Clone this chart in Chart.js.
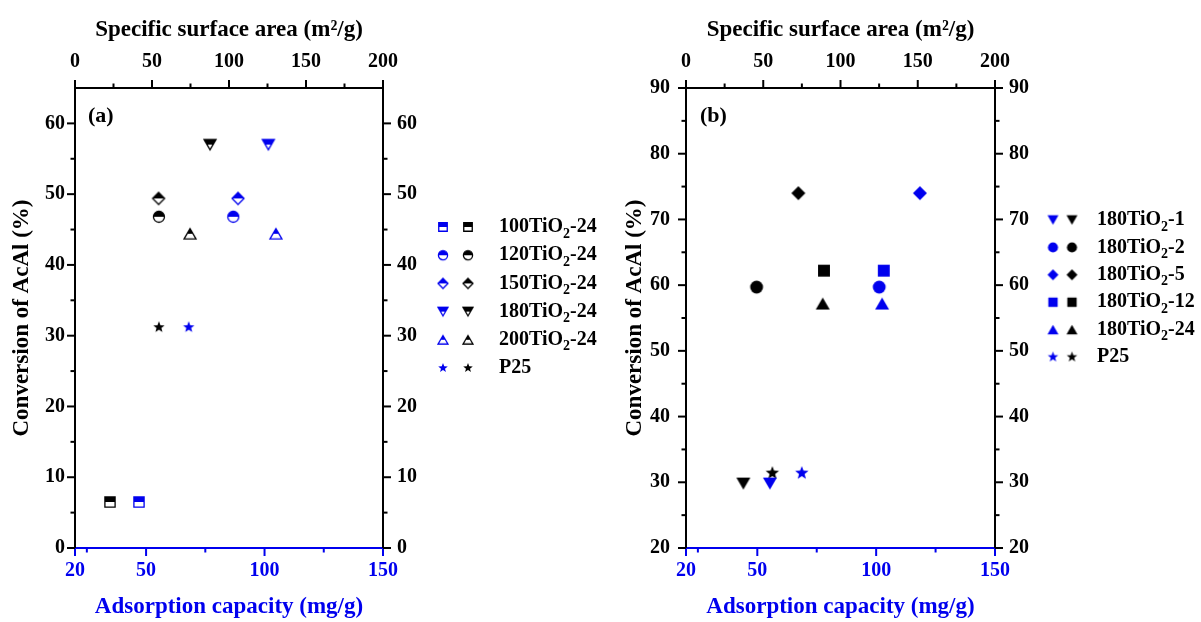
<!DOCTYPE html>
<html>
<head>
<meta charset="utf-8">
<script src="https://cdn.jsdelivr.net/npm/chart.js@4.4.1/dist/chart.umd.min.js"></script>
<style>
  html, body { margin: 0; padding: 0; background: #fff; }
  #wrap { position: relative; width: 1201px; height: 622px; }
  .panel { position: absolute; top: 0; height: 622px; }
  #panel-a { left: 0; width: 600px; }
  #panel-b { left: 600px; width: 601px; }
</style>
</head>
<body>
<div id="wrap">
  <div class="panel" id="panel-a"><canvas id="chart-a"></canvas></div>
  <div class="panel" id="panel-b"><canvas id="chart-b"></canvas></div>
</div>
<script>
// --- 1. Data ---
// panel (a): calcination temperature series
const samplesA = ["100TiO2-24", "120TiO2-24", "150TiO2-24", "180TiO2-24", "200TiO2-24", "P25"];
const shapesA = ["square", "circle", "diamond", "triangleDown", "triangle", "star"];
const areaA = [22.7, 54.5, 54.3, 87.7, 74.7, 54.5];      // specific surface area (top axis)
const adsA = [47.0, 86.8, 88.8, 101.6, 104.8, 68.0];     // adsorption capacity (bottom axis)
const convA = [6.5, 46.8, 49.4, 57.0, 44.4, 31.2];       // conversion of AcAl, %

// panel (b): hydrothermal time series
const samplesB = ["180TiO2-1", "180TiO2-2", "180TiO2-5", "180TiO2-12", "180TiO2-24", "P25"];
const shapesB = ["triangleDown", "circle", "diamond", "square", "triangle", "star"];
const areaB = [37.1, 45.7, 72.7, 89.3, 88.5, 55.9];
const adsB = [55.3, 101.3, 118.4, 103.2, 102.5, 68.7];
const convB = [29.8, 59.7, 74.0, 62.2, 57.2, 31.4];

// tick labels / tick marks
const adsTicks = [20, 50, 100, 150];
const adsMinor = [25, 75, 125];
const areaTicks = [0, 50, 100, 150, 200];
const areaMinor = [25, 75, 125, 175];
const convTicksA = [0, 10, 20, 30, 40, 50, 60];
const convMinorA = [5, 15, 25, 35, 45, 55];
const convTicksB = [20, 30, 40, 50, 60, 70, 80, 90];
const convMinorB = [25, 35, 45, 55, 65, 75, 85];

const BLUE = "#0000ee";
const BLACK = "#000000";
const FONT = "'Liberation Serif', 'Times New Roman', serif";
Chart.defaults.font.family = FONT;

// --- 2. Marker images (half filled / full) ---
function shapePath(ctx, shape, c, r) {
    ctx.beginPath();
    if (shape === "square") {
        const h = r * 0.85;
        ctx.rect(c - h, c - h, 2 * h, 2 * h);
    } else if (shape === "circle") {
        ctx.arc(c, c, r * 0.92, 0, Math.PI * 2);
    } else if (shape === "diamond") {
        ctx.moveTo(c, c - r); ctx.lineTo(c + r, c); ctx.lineTo(c, c + r); ctx.lineTo(c - r, c);
    } else if (shape === "triangle") {
        ctx.moveTo(c, c - r * 0.85); ctx.lineTo(c + r, c + r * 0.85); ctx.lineTo(c - r, c + r * 0.85);
    } else if (shape === "triangleDown") {
        ctx.moveTo(c - r, c - r * 0.85); ctx.lineTo(c + r, c - r * 0.85); ctx.lineTo(c, c + r * 0.85);
    } else if (shape === "star") {
        for (let i = 0; i < 10; i++) {
            const rr = i % 2 === 0 ? r : r * 0.42;
            const a = -Math.PI / 2 + i * Math.PI / 5;
            const px = c + rr * Math.cos(a), py = c + rr * Math.sin(a);
            if (i === 0) ctx.moveTo(px, py); else ctx.lineTo(px, py);
        }
    }
    ctx.closePath();
}

function makeMarker(shape, color, size, half) {
    const cv = document.createElement("canvas");
    cv.width = cv.height = size + 4;
    const ctx = cv.getContext("2d");
    const c = cv.width / 2, r = size / 2;
    shapePath(ctx, shape, c, r);
    if (half && shape !== "star") {
        ctx.fillStyle = "#fff";
        ctx.fill();
        ctx.save();
        ctx.clip();
        ctx.fillStyle = color;
        ctx.fillRect(0, 0, cv.width, c);
        ctx.restore();
        shapePath(ctx, shape, c, r);
        ctx.lineWidth = 1.3;
        ctx.strokeStyle = color;
        ctx.stroke();
    } else {
        ctx.fillStyle = color;
        ctx.fill();
    }
    return cv;
}

// --- 3. Plugins: tick marks, panel letter, legend ---
const tickMarks = {
    id: "tickMarks",
    afterDraw(chart, args, opts) {
        const ctx = chart.ctx, a = chart.chartArea;
        ctx.save();
        ctx.lineWidth = 2;
        opts.axes.forEach(ax => {
            const s = chart.scales[ax.id];
            ctx.strokeStyle = ax.color;
            const mark = (v, len) => {
                const p = s.getPixelForValue(v);
                ctx.beginPath();
                if (s.position === "bottom") { ctx.moveTo(p, a.bottom); ctx.lineTo(p, a.bottom + len); }
                else if (s.position === "top") { ctx.moveTo(p, a.top); ctx.lineTo(p, a.top - len); }
                else if (s.position === "left") { ctx.moveTo(a.left, p); ctx.lineTo(a.left - len, p); }
                else { ctx.moveTo(a.right, p); ctx.lineTo(a.right + len, p); }
                ctx.stroke();
            };
            ax.major.forEach(v => mark(v, 8));
            ax.minor.forEach(v => mark(v, 4.5));
        });
        ctx.restore();
    }
};

const panelDecor = {
    id: "panelDecor",
    afterDraw(chart, args, opts) {
        const ctx = chart.ctx;
        ctx.save();
        ctx.textBaseline = "middle";
        ctx.fillStyle = BLACK;
        ctx.font = "bold 22px " + FONT;
        ctx.fillText(opts.letter, opts.letterX, opts.letterY);

        // legend: blue marker, black marker, name with subscript
        opts.names.forEach((name, i) => {
            const y = opts.y0 + i * opts.dy;
            const bm = opts.blueMarks[i], km = opts.blackMarks[i];
            ctx.drawImage(bm, opts.blueX - bm.width / 2, y - bm.height / 2);
            ctx.drawImage(km, opts.blackX - km.width / 2, y - km.height / 2);
            let x = opts.textX;
            const k = name.indexOf("TiO2");
            const parts = k >= 0
                ? [[name.slice(0, k + 3), 0], ["2", 1], [name.slice(k + 4), 0]]
                : [[name, 0]];
            parts.forEach(([t, sub]) => {
                ctx.font = sub ? "bold 14px " + FONT : "bold 20px " + FONT;
                ctx.fillText(t, x, sub ? y + 7 : y);
                x += ctx.measureText(t).width;
            });
        });
        ctx.restore();
    }
};

// --- 4. Chart builder ---
function bold(size) { return { family: FONT, size: size, weight: "bold" }; }

function buildChart(canvasId, p) {
    const blueMarks = p.shapes.map(s => makeMarker(s, BLUE, p.markSize, p.half));
    const blackMarks = p.shapes.map(s => makeMarker(s, BLACK, p.markSize, p.half));
    const legBlue = p.shapes.map(s => makeMarker(s, BLUE, p.legSize, p.half));
    const legBlack = p.shapes.map(s => makeMarker(s, BLACK, p.legSize, p.half));

    const yAxis = (pos, width, pad) => ({
        type: "linear", position: pos, min: p.yMin, max: p.yMax,
        afterBuildTicks: s => { s.ticks = p.yTicks.map(v => ({ value: v })); },
        afterFit: s => { s.width = width; },
        grid: { display: false, drawTicks: false },
        border: { display: true, color: BLACK, width: 2 },
        ticks: { color: BLACK, font: bold(20), padding: pad, autoSkip: false }
    });

    const left = yAxis("left", p.leftW, p.leftPad);
    left.title = { display: true, text: "Conversion of AcAl (%)", color: BLACK, font: bold(23), padding: { top: p.titlePad, bottom: 0 } };

    return new Chart(document.getElementById(canvasId), {
        type: "scatter",
        data: {
            datasets: [
                {
                    label: "adsorption",
                    xAxisID: "x", yAxisID: "y",
                    data: p.ads.map((v, i) => ({ x: v, y: p.conv[i] })),
                    pointStyle: blueMarks, pointRadius: 6
                },
                {
                    label: "surface area",
                    xAxisID: "x2", yAxisID: "y",
                    data: p.area.map((v, i) => ({ x: v, y: p.conv[i] })),
                    pointStyle: blackMarks, pointRadius: 6
                }
            ]
        },
        options: {
            responsive: true,
            maintainAspectRatio: false,
            animation: false,
            layout: { padding: 0, autoPadding: false },
            scales: {
                x: {
                    type: "linear", position: "bottom", min: 20, max: 150,
                    afterBuildTicks: s => { s.ticks = adsTicks.map(v => ({ value: v })); },
                    afterFit: s => { s.height = 74; },
                    grid: { display: false, drawTicks: false },
                    border: { display: true, color: BLUE, width: 2 },
                    ticks: { color: BLUE, font: bold(20), padding: 11, autoSkip: false, maxRotation: 0 },
                    title: { display: true, text: "Adsorption capacity (mg/g)", color: BLUE, font: bold(23), padding: { top: 0, bottom: 1 } }
                },
                x2: {
                    type: "linear", position: "top", min: 0, max: 200,
                    afterBuildTicks: s => { s.ticks = areaTicks.map(v => ({ value: v })); },
                    afterFit: s => { s.height = 88; },
                    grid: { display: false, drawTicks: false },
                    border: { display: true, color: BLACK, width: 2 },
                    ticks: { color: BLACK, font: bold(20), padding: 14, autoSkip: false, maxRotation: 0 },
                    title: { display: true, text: "Specific surface area (m\u00b2/g)", color: BLACK, font: bold(23), padding: { top: 16, bottom: 0 } }
                },
                y: left,
                y2: yAxis("right", p.rightW, 14)
            },
            plugins: {
                legend: { display: false },
                tooltip: { enabled: false },
                tickMarks: {
                    axes: [
                        { id: "x", color: BLUE, major: adsTicks, minor: adsMinor },
                        { id: "x2", color: BLACK, major: areaTicks, minor: areaMinor },
                        { id: "y", color: BLACK, major: p.yTicks, minor: p.yMinor },
                        { id: "y2", color: BLACK, major: p.yTicks, minor: p.yMinor }
                    ]
                },
                panelDecor: Object.assign({ names: p.names, blueMarks: legBlue, blackMarks: legBlack }, p.legend)
            }
        },
        plugins: [tickMarks, panelDecor]
    });
}

// --- 5. Draw both panels ---
buildChart("chart-a", {
    names: samplesA, shapes: shapesA, ads: adsA, area: areaA, conv: convA,
    half: true, markSize: 12, legSize: 10,
    yMin: 0, yMax: 65, yTicks: convTicksA, yMinor: convMinorA,
    leftW: 75, leftPad: 10, rightW: 217, titlePad: 8,
    legend: { letter: "(a)", letterX: 88, letterY: 116, y0: 227, dy: 28.2, blueX: 443, blackX: 468, textX: 499 }
});

buildChart("chart-b", {
    names: samplesB, shapes: shapesB, ads: adsB, area: areaB, conv: convB,
    half: false, markSize: 14, legSize: 11,
    yMin: 20, yMax: 90, yTicks: convTicksB, yMinor: convMinorB,
    leftW: 86, leftPad: 16, rightW: 206, titlePad: 21,
    legend: { letter: "(b)", letterX: 100, letterY: 116, y0: 220, dy: 27.4, blueX: 453, blackX: 472, textX: 497 }
});
</script>
</body>
</html>
